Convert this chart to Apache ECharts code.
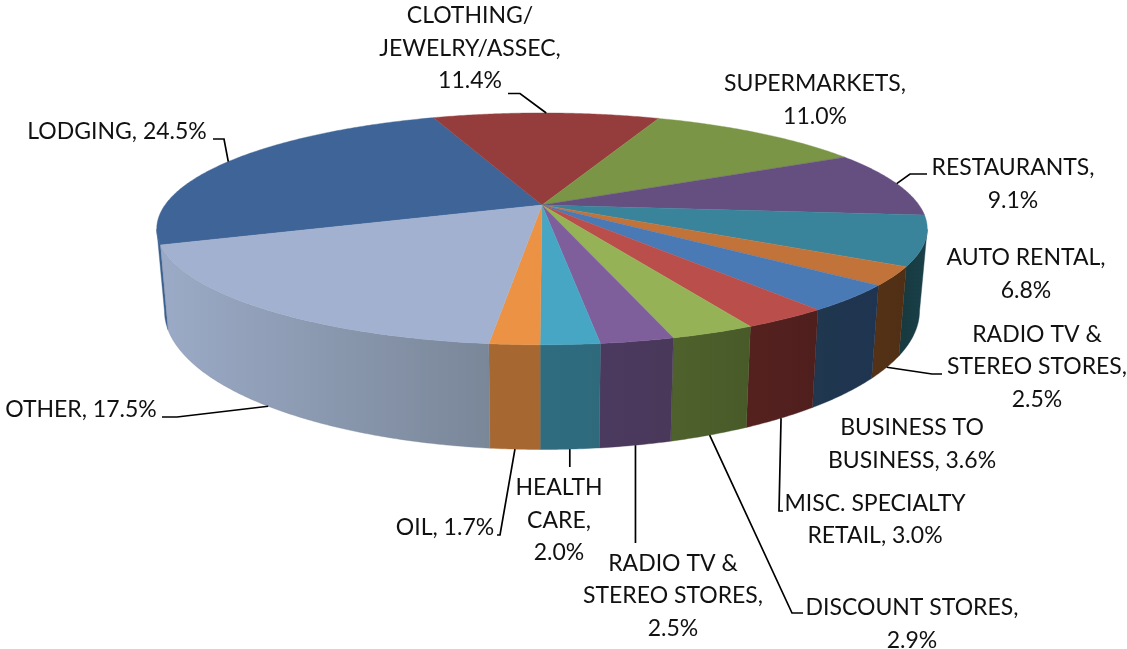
<!DOCTYPE html>
<html>
<head>
<meta charset="utf-8">
<title>Sales by merchant category</title>
<style>
  html, body { margin: 0; padding: 0; background: #fff; }
  #chart { width: 1127px; height: 649px; }
</style>
<script src="https://cdn.jsdelivr.net/npm/echarts@6/dist/echarts.min.js"></script>
</head>
<body>
<div id="chart"></div>
<script>
// Merchant categories, clockwise from the left of the pie.
const categories = ['LODGING', 'CLOTHING/\nJEWELRY/ASSEC', 'SUPERMARKETS', 'RESTAURANTS', 'AUTO RENTAL',
  'RADIO TV &\nSTEREO STORES', 'BUSINESS TO\nBUSINESS', 'MISC. SPECIALTY\nRETAIL', 'DISCOUNT STORES',
  'RADIO TV &\nSTEREO STORES', 'HEALTH\nCARE', 'OIL', 'OTHER'];
const shares = [24.5, 11.4, 11.0, 9.1, 6.8, 2.5, 3.6, 3.0, 2.9, 2.5, 2.0, 1.7, 17.5];
const labelBreaks = [' ', '\n', '\n', '\n', '\n', '\n', ' ', ' ', '\n', '\n', '\n', ' ', ' '];

// Face and wall colours for each slice.
const topColors = ['#3F6497', '#943D3C', '#7A9545', '#654E80', '#3A849B', '#C2733A', '#4A7AB5',
  '#B94E4B', '#95B256', '#7E5F9C', '#47A6C3', '#EC9245', '#A2B1CF'];
const wallFrom = ['#3A6090', '#6E2D2C', '#5A6F33', '#4B3A5F', '#17393F', '#553216', '#20374F',
  '#55211F', '#4F622D', '#4B3A5F', '#2E6C80', '#A66830', '#9BAAC6'];
const wallTo = ['#3A6090', '#6E2D2C', '#5A6F33', '#4B3A5F', '#1A4049', '#4F2F15', '#1F3450',
  '#4F1F1D', '#485A28', '#493859', '#2E6A7C', '#A66830', '#7A8799'];

// Label centres and the leader line bends; null means the slice has no leader.
// A bend with a null x drops straight down from the slice's rim point.
const labelCentres = [[117, 132], [470, 48.5], [815, 100], [1013, 184], [1026, 274], [1037, 367],
  [912, 444], [875, 519.5], [912, 624], [673, 596], [559, 520.5], [445, 528], [81, 410]];
const leaderBends = [
  [[224, 139], [213, 139]],
  [[520, 93.5], [508, 93.5]],
  null,
  [[910, 174], [927, 174]],
  null,
  [[932, 374], [942, 374]],
  null,
  [[779, 511], [783, 511]],
  [[792, 613], [803, 613]],
  [[null, 543]],
  [[null, 467]],
  [[500, 535], [497, 535]],
  [[177, 417], [162, 417]]
];

// Projection of the tilted disc: the near edge is drawn larger than the far edge.
const view = {
  cx: 542, cyTop: 205, cyBottom: 282,
  rx: 377, ryTop: 111, ryBottom: 133,
  bottomShrink: 0.98, perspective: 0.206,
  startAngle: 250.4, wallStart: 102, wallEnd: 258
};

const total = shares.reduce((a, b) => a + b, 0);
const spans = [];
shares.reduce((acc, v) => {
  const next = acc + v / total * 360;
  spans.push([acc, next]);
  return next;
}, view.startAngle);

function rimPoint(deg, lower) {
  const t = deg * Math.PI / 180;
  const u = Math.sin(t), v = -Math.cos(t);
  const w = 1 / (1 - view.perspective * v);
  return lower
    ? [view.cx + view.rx * view.bottomShrink * u * w, view.cyBottom + view.ryBottom * v * w]
    : [view.cx + view.rx * u * w, view.cyTop + view.ryTop * v * w];
}

function arc(a, b, lower) {
  const n = Math.max(2, Math.ceil(Math.abs(b - a) * 2));
  const pts = [];
  for (let i = 0; i <= n; i++) pts.push(rimPoint(a + (b - a) * i / n, lower));
  return pts;
}

function renderTop(params, api) {
  const i = api.value(0);
  const s = spans[i];
  return {
    type: 'polygon',
    shape: { points: [[view.cx, view.cyTop]].concat(arc(s[0], s[1], false)) },
    style: { fill: topColors[i], stroke: topColors[i], lineWidth: 0.4 }
  };
}

function renderWall(params, api) {
  const i = api.value(0);
  const s = spans[i];
  const children = [];
  [0, 360].forEach(k => {
    const a = Math.max(s[0], view.wallStart + k);
    const b = Math.min(s[1], view.wallEnd + k);
    if (b <= a) return;
    children.push({
      type: 'polygon',
      shape: { points: arc(a, b, false).concat(arc(b, a, true)) },
      style: {
        stroke: wallTo[i], lineWidth: 0.4,
        fill: { type: 'linear', x: 0, y: 0, x2: 1, y2: 0,
          colorStops: [{ offset: 0, color: wallFrom[i] }, { offset: 1, color: wallTo[i] }] }
      }
    });
  });
  return { type: 'group', children };
}

function renderLabel(params, api) {
  const i = api.value(0);
  const children = [];
  const mid = (spans[i][0] + spans[i][1]) / 2;
  const m = ((mid % 360) + 360) % 360;
  if (leaderBends[i]) {
    const onFront = m > view.wallStart && m < view.wallEnd;
    const anchor = rimPoint(mid, onFront);
    const bends = leaderBends[i].map(p => [p[0] === null ? anchor[0] : p[0], p[1]]);
    children.push({
      type: 'polyline',
      shape: { points: [anchor].concat(bends) },
      style: { fill: null, stroke: '#000', lineWidth: 1.7 }
    });
  }
  children.push({
    type: 'text',
    style: {
      text: categories[i] + ',' + labelBreaks[i] + shares[i].toFixed(1) + '%',
      x: labelCentres[i][0], y: labelCentres[i][1],
      align: 'center', verticalAlign: 'middle',
      fontFamily: 'Lato', fontSize: 23, lineHeight: 32.5, fill: '#111'
    }
  });
  return { type: 'group', children };
}

const indices = categories.map((_, i) => [i]);
const chart = echarts.init(document.getElementById('chart'), null, { renderer: 'canvas' });
chart.setOption({
  animation: false,
  backgroundColor: '#fff',
  series: [
    { type: 'custom', name: 'walls', coordinateSystem: 'none', silent: true, z: 1, data: indices, renderItem: renderWall },
    { type: 'custom', name: 'faces', coordinateSystem: 'none', silent: true, z: 2, data: indices, renderItem: renderTop },
    { type: 'custom', name: 'labels', coordinateSystem: 'none', silent: true, z: 3, data: indices, renderItem: renderLabel }
  ]
});
</script>
</body>
</html>
